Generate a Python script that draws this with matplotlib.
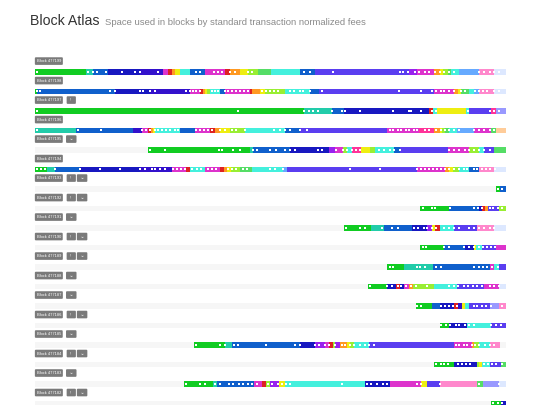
import matplotlib
matplotlib.use('Agg')
import matplotlib.pyplot as plt

plt.rcParams['font.family'] = ['Liberation Sans', 'DejaVu Sans']

# ── Data ─────────────────────────────────────────────────────────────────────

# fee-rate colour buckets (one letter per bucket)
palette = {
    'G': '#11cc22', 'T': '#22ccaa', 'A': '#44f0dd', 'B': '#1060cc',
    'D': '#1818c0', 'I': '#3311cc', 'V': '#5a3ef0', 'P': '#9922ee',
    'M': '#dd33cc', 'K': '#ff3399', 'R': '#dd2222', 'O': '#ff9922',
    'Y': '#eeee11', 'L': '#99ee33', 'E': '#55dd66', 'S': '#66aaff',
    'W': '#9999ff', 'N': '#ff88cc', 'Q': '#dde8ff', 'H': '#ffcc99',
}

blocks = [477199, 477198, 477197, 477196, 477195, 477194, 477193, 477192, 477191,
          477190, 477189, 477188, 477187, 477186, 477185, 477184, 477183, 477182]

# start of each fee segment, in kB of block space
seg_starts = [
    [0, 108, 123, 155, 223, 271, 282, 290, 297, 307, 329, 360, 403, 413, 435, 452, 473,
     502, 562, 594, 795, 812, 848, 859, 867, 876, 884, 901, 943, 975],
    [0, 4, 170, 244, 329, 350, 356, 360, 365, 371, 392, 403, 456, 460, 477, 488, 530, 583,
     604, 848, 890, 899, 905, 922, 933, 943, 975],
    [0, 424, 572, 630, 657, 837, 846, 854, 916, 922, 969, 979],
    [0, 87, 208, 227, 240, 246, 250, 254, 307, 339, 371, 382, 392, 413, 445, 530, 562, 748,
     816, 848, 859, 865, 871, 880, 897, 933, 969, 979],
    [240, 456, 462, 541, 625, 636, 653, 662, 672, 693, 712, 721, 763, 774, 876, 922, 943,
     954, 975],
    [0, 25, 42, 95, 223, 290, 320, 329, 360, 392, 401, 407, 416, 435, 460, 526, 536, 812,
     871, 880, 888, 901, 922, 943, 975],
    [979, 988],
    [818, 880, 943, 948, 956, 962, 986],
    [657, 714, 742, 801, 833, 842, 850, 859, 890, 939, 975],
    [818, 869, 912, 931, 937, 948, 979],
    [748, 784, 844, 965, 975, 986],
    [708, 748, 767, 776, 784, 795, 803, 848, 897, 954, 986],
    [808, 842, 859, 890, 899, 907, 914, 922, 965, 986],
    [859, 880, 918, 969],
    [337, 403, 418, 562, 594, 615, 625, 632, 636, 647, 662, 668, 678, 710, 890, 927, 933,
     943, 965],
    [848, 890, 939, 943, 950, 965, 990],
    [316, 377, 386, 466, 481, 490, 498, 519, 530, 700, 753, 820, 833, 859, 939, 952, 986],
    [969, 990],
]
seg_colors = [
    'GTBDIMROYABMROYLEABVPMOYLEASNQ',
    'GBDIMROYLABMROYLABVMOYEASNQ',
    'GGTBDRAYAVKW',
    'TBIMROYABMROYLABVMKOYLEASMEH',
    'GTBDPMLAKYLABVMLAVE',
    'GTBDIMRAMROYLEASVMOYLABNQ',
    'GB',
    'GBDROVL',
    'GTBDPYRAVNQ',
    'GBDYAVM',
    'GTBMAV',
    'GDRDMOLAVMQ',
    'GBDRIYAVWN',
    'GDAV',
    'GTBDPMRLPOYLAVMOLAN',
    'GDLYAVE',
    'GTBMRLPYADMYVNEWQ',
    'GD',
]
block_end = [1000, 1000, 1000, 1000, 1000, 1000, 1000, 1000, 1000,
             1000, 1000, 1000, 1000, 1000, 988, 1000, 1000, 1000]

# white markers (individual transactions), kB
dots = [
    [4, 112, 123, 131, 150, 184, 212, 223, 261, 341, 350, 379, 388, 396, 413, 424, 452, 460,
     572, 583, 632, 774, 782, 791, 806, 816, 827, 837, 850, 859, 869, 880, 890, 943, 954,
     965, 975, 986],
    [4, 11, 159, 170, 223, 229, 244, 255, 320, 329, 335, 341, 350, 375, 382, 388, 403, 409,
     418, 426, 435, 443, 452, 481, 490, 498, 507, 515, 541, 549, 562, 570, 583, 610, 772,
     820, 842, 852, 861, 869, 880, 890, 905, 913, 935, 943, 952, 960, 975, 986],
    [4, 430, 572, 581, 590, 600, 630, 651, 659, 691, 761, 793, 799, 820, 842, 852, 920, 965,
     975, 986],
    [4, 91, 140, 227, 235, 244, 254, 261, 270, 278, 286, 297, 303, 341, 350, 358, 367, 375,
     392, 403, 418, 426, 445, 507, 520, 530, 541, 562, 577, 753, 761, 770, 778, 787, 795,
     804, 812, 827, 837, 852, 863, 871, 880, 890, 901, 933, 943, 954, 965, 975],
    [244, 276, 390, 398, 420, 435, 462, 471, 498, 511, 530, 541, 553, 600, 610, 640, 653,
     662, 672, 681, 689, 731, 742, 753, 763, 774, 880, 890, 901, 912, 922, 933, 943, 954,
     965],
    [4, 13, 21, 42, 95, 138, 180, 223, 233, 248, 254, 265, 276, 293, 301, 310, 318, 333,
     344, 352, 367, 375, 384, 409, 418, 426, 441, 450, 498, 509, 526, 668, 732, 812, 820,
     829, 837, 846, 854, 863, 871, 880, 890, 901, 910, 918, 931, 939, 950, 958, 967, 977],
    [984, 992],
    [823, 842, 850, 882, 933, 941, 950, 965, 973, 982, 992],
    [661, 691, 700, 736, 759, 770, 804, 814, 825, 833, 842, 852, 869, 880, 890, 901, 922,
     933, 943, 954, 965, 975],
    [823, 831, 869, 878, 910, 922, 931, 943, 952, 960, 969, 977],
    [753, 761, 810, 818, 827, 852, 863, 933, 943, 952, 960, 971, 984],
    [712, 748, 759, 770, 778, 787, 799, 808, 833, 880, 890, 899, 910, 920, 929, 939, 950,
     965, 975, 986],
    [812, 820, 863, 871, 880, 888, 897, 931, 939, 950, 958, 969, 992],
    [863, 873, 882, 893, 901, 912, 922, 933, 969, 979, 990],
    [341, 392, 403, 422, 430, 490, 551, 562, 594, 604, 615, 625, 636, 651, 659, 668, 678,
     689, 700, 710, 719, 893, 901, 910, 918, 927, 935, 943, 956, 965, 975],
    [852, 861, 869, 876, 899, 907, 916, 924, 954, 962, 971, 979, 992],
    [320, 350, 360, 382, 392, 411, 420, 433, 441, 452, 460, 471, 494, 503, 515, 524, 532,
     541, 651, 704, 714, 727, 738, 748, 812, 820, 859, 943, 986],
    [973, 982, 992],
]

# small badges after the block label
badges = [[], [], ['!'], [], ['\u25d1'], [],
          ['!', '\u25d1'], ['!', '\u25d1'], ['\u25d1'], ['!', '\u25d1'], ['!', '\u25d1'],
          ['\u25d1'], ['\u25d1'], ['!', '\u25d1'], ['\u25d1'], ['!', '\u25d1'],
          ['\u25d1'], ['!', '\u25d1']]

# ── Plot ─────────────────────────────────────────────────────────────────────

W, H = 540, 405
fig = plt.figure(figsize=(W / 100, H / 100), dpi=100)
fig.patch.set_facecolor('white')

fig.text(30 / W, 1 - 25 / H, 'Block Atlas', fontsize=10.2, color='#333333', va='baseline')
fig.text(105 / W, 1 - 25 / H, 'Space used in blocks by standard transaction normalized fees',
         fontsize=6.8, color='#8a8a8a', va='baseline')

ax = fig.add_axes([35 / W, 0, 471 / W, 350 / H])
ax.set_xlim(0, 1000)
ax.set_ylim(17.08, -0.872)
ax.axis('off')

bar_h = 0.29
box = dict(boxstyle='round,pad=0.45,rounding_size=0.25', fc='#7a7a7a', ec='none')
for i, blk in enumerate(blocks):
    # empty block space
    ax.barh(i, 1000, left=0, height=bar_h, color='#f6f6f6', lw=0)

    starts = seg_starts[i]
    ends = starts[1:] + [block_end[i]]
    widths = [e - s for s, e in zip(starts, ends)]
    cols = [palette[k] for k in seg_colors[i]]
    ax.barh([i] * len(starts), widths, left=starts, height=bar_h, color=cols, lw=0)

    ax.scatter(dots[i], [i] * len(dots[i]), marker='s', s=2.2, c='white', linewidths=0,
               zorder=3)

    ax.annotate(f'Block {blk}', xy=(0, i - 0.56), xytext=(1.2, 0), textcoords='offset points',
                fontsize=2.9, color='white', va='center', ha='left', bbox=box)
    for j, b in enumerate(badges[i]):
        ax.annotate(f'  {b}  ', xy=(77 + j * 23, i - 0.56), fontsize=2.9, color='white',
                    va='center', ha='center', bbox=box)

plt.savefig('out.png', dpi=100)
